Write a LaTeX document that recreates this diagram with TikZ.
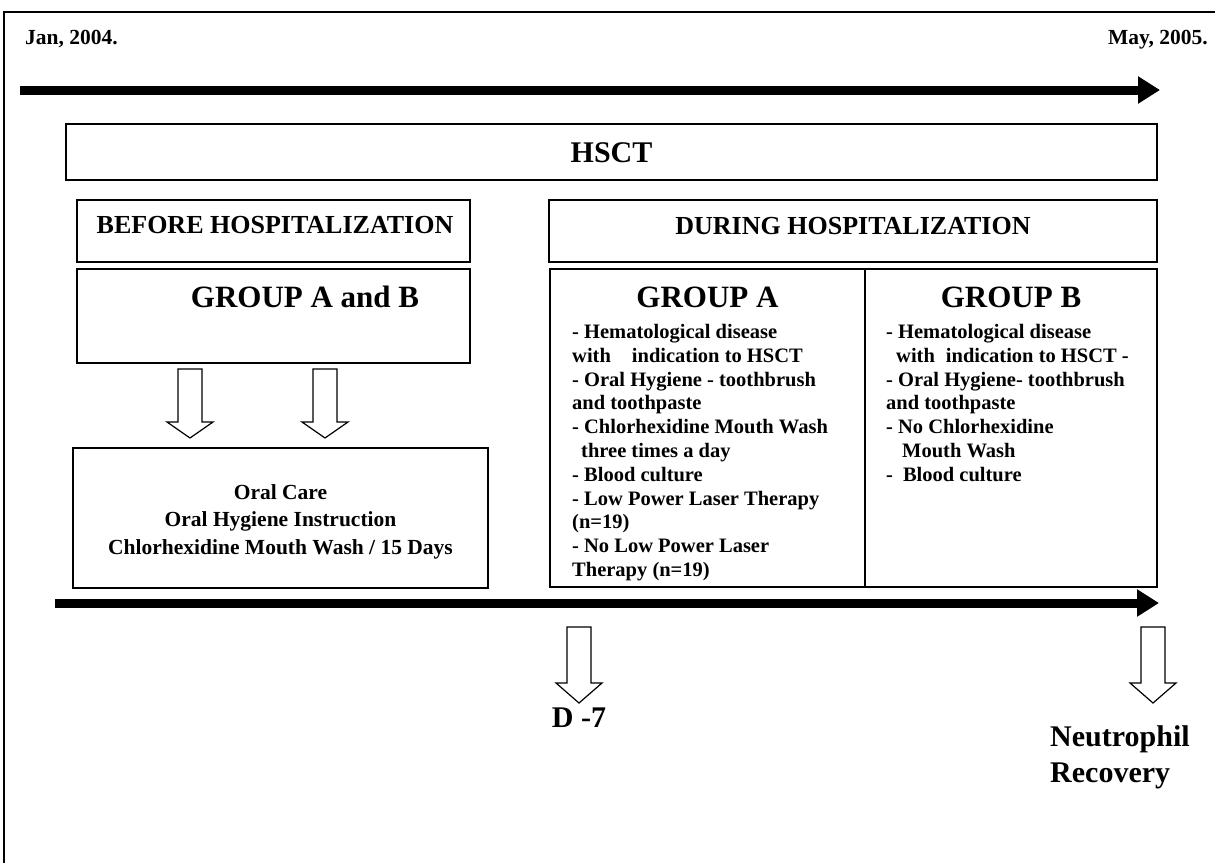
\documentclass[tikz,border=0pt]{standalone}
\usepackage{fontspec}
\setmainfont{Liberation Serif}
\usetikzlibrary{arrows.meta}
\newcommand\harrow[4]{%
  \draw[hollow] (#1-12,#2) -- (#1+12,#2) -- (#1+12,#3) -- (#1+23,#3) -- (#1,#4) -- (#1-23,#3) -- (#1-12,#3) -- cycle;}
\begin{document}
\begin{tikzpicture}[x=1pt,y=-1pt,
  boxst/.style={draw, line width=1.6pt, inner sep=0pt, rectangle},
  bigt/.style={inner sep=0pt, font=\bfseries\fontsize{30}{36}\selectfont},
  grpt/.style={inner sep=0pt, font=\bfseries\fontsize{31}{36}\selectfont},
  midt/.style={inner sep=0pt, font=\bfseries\fontsize{26}{30}\selectfont},
  datet/.style={inner sep=0pt, font=\bfseries\fontsize{21.5}{25}\selectfont},
  bodyt/.style={inner sep=0pt, align=left, font=\bfseries\fontsize{20.5}{23.8}\selectfont},
  oralt/.style={inner sep=0pt, align=center, font=\bfseries\fontsize{21.5}{27.5}\selectfont},
  timeline/.style={line width=9pt, -{Triangle[length=22pt,width=26pt]}},
  hollow/.style={draw, line width=1.2pt, fill=white, line join=miter}
]
\useasboundingbox (0,0) rectangle (1215,863);
% frame
\draw[line width=1.5pt] (4,863) -- (4,12) -- (1215,12);
% dates
\node[datet, anchor=base west] (jan) at (25,44) {Jan, 2004.};
\node[datet, anchor=base east] (may) at (1208,44) {May, 2005.};
% top timeline
\coordinate (t1s) at (20,90);
\coordinate (t1e) at (1160,90);
\draw[timeline] (t1s) -- (t1e);
% boxes
\node[boxst, minimum width=1091pt, minimum height=56pt] (hsct) at (611.5,152) {};
\node[bigt, anchor=base] (hscttxt) at (611.5,162) {HSCT};
\node[boxst, minimum width=393pt, minimum height=62pt] (before) at (273.5,231) {};
\node[midt, anchor=base] (beforetxt) at (275,233) {BEFORE HOSPITALIZATION};
\node[boxst, minimum width=608pt, minimum height=62pt] (during) at (853,231) {};
\node[midt, anchor=base] (duringtxt) at (853,234) {DURING HOSPITALIZATION};
\node[boxst, minimum width=393pt, minimum height=94pt] (gab) at (273.5,316) {};
\node[grpt, anchor=base] (gabtxt) at (305,307) {GROUP A and B};
\node[boxst, minimum width=315pt, minimum height=318pt] (ga) at (707.5,428) {};
\node[boxst, minimum width=292pt, minimum height=318pt] (gb) at (1011,428) {};
\node[grpt, anchor=base] (gatitle) at (707.5,307) {GROUP A};
\node[grpt, anchor=base] (gbtitle) at (1011,307) {GROUP B};
\begin{scope}
\clip (550,269) rectangle (865,581);
\node[bodyt, anchor=north west] (galist) at (572,324) {%
-~Hematological disease\\
with\hspace*{21pt}indication to HSCT\\
-~Oral Hygiene - toothbrush\\
and toothpaste\\
-~Chlorhexidine Mouth Wash\\
\hspace*{9pt}three times a day\\
-~Blood culture\\
-~Low Power Laser Therapy\\
(n=19)\\
-~No Low Power Laser\\
Therapy (n=19)};
\end{scope}
\node[bodyt, anchor=north west] (gblist) at (886,324) {%
-~Hematological disease\\
\hspace*{10pt}with\hspace*{11pt}indication to HSCT -\\
-~Oral Hygiene- toothbrush\\
and toothpaste\\
-~No Chlorhexidine\\
\hspace*{16pt}Mouth Wash\\
-\hspace*{10pt}Blood culture};
% oral care box
\node[boxst, minimum width=415pt, minimum height=140pt] (oral) at (280.5,518) {};
\node[oralt, anchor=north] (oraltxt) at (280.5,484) {Oral Care\\Oral Hygiene Instruction\\Chlorhexidine Mouth Wash / 15 Days};
% hollow arrows
\harrow{190}{369}{422}{438}
\harrow{325}{369}{422}{438}
\harrow{579}{627}{683}{703}
\harrow{1153}{627}{683}{703}
% bottom timeline
\coordinate (t2s) at (55,603);
\coordinate (t2e) at (1159,603);
\draw[timeline] (t2s) -- (t2e);
% labels
\node[bigt, anchor=base] (d7) at (579,727) {D -7};
\node[bigt, anchor=base west] (neu) at (1050,746) {Neutrophil};
\node[bigt, anchor=base west] (rec) at (1050,782) {Recovery};
\end{tikzpicture}
\end{document}
